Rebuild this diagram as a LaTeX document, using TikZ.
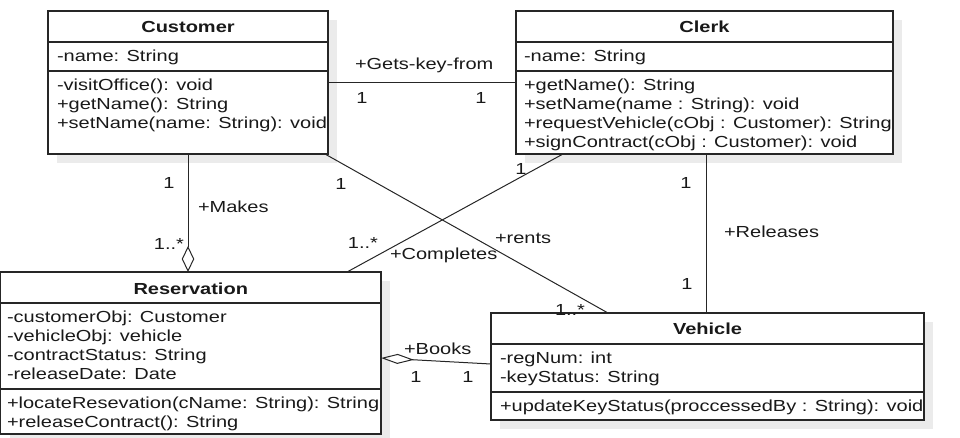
\documentclass[tikz,border=0pt]{standalone}
\usepackage{fontspec}
\setmainfont{Liberation Sans}[FakeStretch=1.25]
\usetikzlibrary{arrows.meta,calc,shadows}
\begin{document}
\begin{tikzpicture}[x=1pt,y=-1pt,
  every node/.style={font=\fontsize{16}{19}\selectfont, text=black!90, inner sep=0pt, outer sep=0pt},
  classbox/.style={draw=black!85, line width=1.1pt, fill=white, rectangle, anchor=north west,
    drop shadow={shadow xshift=9pt, shadow yshift=-9pt, fill=black!8, opacity=1}},
  divider/.style={draw=black!85, line width=1.1pt},
  title/.style={anchor=base, font=\fontsize{16}{19}\selectfont\bfseries},
  member/.style={anchor=base west},
  lbl/.style={anchor=base},
  lblw/.style={anchor=base west},
  conn/.style={draw=black!85, line width=1pt},
  aggv/.style={-{Diamond[open,length=26pt,width=12.5pt]}},
  aggh/.style={{Diamond[open,length=33pt,width=10pt]}-}
]
\useasboundingbox (0,0) rectangle (960,437);

% ---------- Customer ----------
\node[classbox, minimum width=280pt, minimum height=143pt] (cust) at (48,11) {};
\draw[divider] ($(cust.north west)+(0,31)$) -- ($(cust.north east)+(0,31)$);
\draw[divider] ($(cust.north west)+(0,60)$) -- ($(cust.north east)+(0,60)$);
\node[title] (custT) at (188,32) {Customer};
\node[member] (custA1) at (57,61.5) {-name: String};
\node[member] (custM1) at (57,90.5) {-visitOffice(): void};
\node[member] (custM2) at (57,109.5) {+getName(): String};
\node[member] (custM3) at (57,128.5) {+setName(name: String): void};

% ---------- Clerk ----------
\node[classbox, minimum width=377pt, minimum height=143pt] (clerk) at (516,11) {};
\draw[divider] ($(clerk.north west)+(0,31)$) -- ($(clerk.north east)+(0,31)$);
\draw[divider] ($(clerk.north west)+(0,60)$) -- ($(clerk.north east)+(0,60)$);
\node[title] (clerkT) at (704.5,32) {Clerk};
\node[member] (clerkA1) at (524,61.5) {-name: String};
\node[member] (clerkM1) at (524,90.5) {+getName(): String};
\node[member] (clerkM2) at (524,109.5) {+setName(name : String): void};
\node[member] (clerkM3) at (524,128.5) {+requestVehicle(cObj : Customer): String};
\node[member] (clerkM4) at (524,147.5) {+signContract(cObj : Customer): void};

% ---------- Reservation ----------
\node[classbox, minimum width=380.5pt, minimum height=162pt] (res) at (0.5,272) {};
\draw[divider] ($(res.north west)+(0,31)$) -- ($(res.north east)+(0,31)$);
\draw[divider] ($(res.north west)+(0,117)$) -- ($(res.north east)+(0,117)$);
\node[title] (resT) at (190.75,294) {Reservation};
\node[member] (resA1) at (7,322.5) {-customerObj: Customer};
\node[member] (resA2) at (7,341.5) {-vehicleObj: vehicle};
\node[member] (resA3) at (7,360.5) {-contractStatus: String};
\node[member] (resA4) at (7,379.5) {-releaseDate: Date};
\node[member] (resM1) at (7,408) {+locateResevation(cName: String): String};
\node[member] (resM2) at (7,427) {+releaseContract(): String};

% ---------- Vehicle ----------
\node[classbox, minimum width=433pt, minimum height=107pt] (veh) at (491,313) {};
\draw[divider] ($(veh.north west)+(0,31)$) -- ($(veh.north east)+(0,31)$);
\draw[divider] ($(veh.north west)+(0,79)$) -- ($(veh.north east)+(0,79)$);
\node[title] (vehT) at (707.5,334) {Vehicle};
\node[member] (vehA1) at (500,363.5) {-regNum: int};
\node[member] (vehA2) at (500,382.5) {-keyStatus: String};
\node[member] (vehM1) at (500,411.5) {+updateKeyStatus(proccessedBy : String): void};

% ---------- Connectors ----------
\draw[conn] (cust.east) -- (clerk.west);
\draw[conn, aggv] (cust.south) -- (cust.south |- res.north);
\draw[conn] ($(cust.south east)+(-3,0)$) -- ($(veh.north west)+(117,0)$);
\draw[conn] ($(clerk.south west)+(47,0)$) -- ($(res.north west)+(346.5,0)$);
\draw[conn] ($(clerk.south west)+(190,0)$) -- ($(veh.north west)+(215,0)$);
\draw[conn, aggh] ($(res.north east)+(0,86)$) -- ($(veh.north west)+(0,51)$);

% ---------- Labels ----------
\node[lblw] (lGets) at (355,69) {+Gets-key-from};
\node[lbl] (lGets1) at (362,103) {1};
\node[lbl] (lGets2) at (481,103) {1};

\node[lbl] (lMakes1) at (169,188) {1};
\node[lblw] (lMakes) at (198,212.5) {+Makes};
\node[lbl] (lMakes2) at (169,249) {1..*};

\node[lbl] (lRents1) at (341,189) {1};
\node[lblw] (lRents) at (495,243) {+rents};
\node[lblw] (lRents2) at (555,315) {1..*};

\node[lbl] (lComp1) at (521,174) {1};
\node[lbl] (lComp2) at (363,248) {1..*};
\node[lblw] (lComp) at (390,259) {+Completes};

\node[lbl] (lRel1) at (686,188) {1};
\node[lblw] (lRel) at (724,237) {+Releases};
\node[lbl] (lRel2) at (687,289) {1};

\node[lblw] (lBooks) at (404,354) {+Books};
\node[lbl] (lBooks1) at (416,382) {1};
\node[lbl] (lBooks2) at (468,382) {1};
\end{tikzpicture}
\end{document}
